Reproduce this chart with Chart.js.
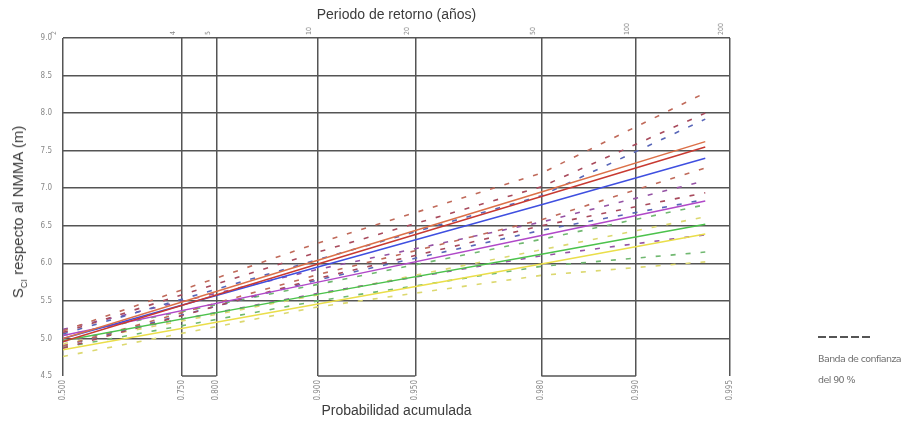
<!DOCTYPE html>
<html>
<head>
<meta charset="utf-8">
<script src="https://cdn.jsdelivr.net/npm/chart.js@4"></script>
<style>
    body { margin: 0; background: #fff; }
    #wrap { position: relative; width: 902px; height: 423px; }
    #ytitle { position: absolute; left: 19px; top: 212px; transform: translate(-50%, -50%) rotate(-90deg); white-space: nowrap; font: 15px 'Liberation Sans', Arial, sans-serif; color: #3c3c3c; }
    #ytitle sub { font-size: 9px; }
    #legend { position: absolute; left: 818px; top: 327px; white-space: nowrap; font-family: 'DejaVu Sans', sans-serif; font-size: 9.5px; letter-spacing: -0.6px; color: #707070; line-height: 21px; }
</style>
</head>
<body>
<div id="wrap">
    <canvas id="chart"></canvas>
    <div id="ytitle">S<sub>CI</sub> respecto al NMMA (m)</div>
    <div id="legend">
        <svg width="54" height="8"><line x1="0" y1="4" x2="52" y2="4" stroke="#555" stroke-width="2" stroke-dasharray="8,3" /></svg><br>
        Banda de confianza<br>del 90 %
    </div>
</div>
<script>
// Axis ticks (cumulative probability, bottom) and return period (top)
const probTicks = [0.5, 0.75, 0.8, 0.9, 0.95, 0.98, 0.99, 0.995];
const probLabels = ['0.500', '0.750', '0.800', '0.900', '0.950', '0.980', '0.990', '0.995'];
const returnPeriods = ['2', '4', '5', '10', '20', '50', '100', '200'];

// bottom frame is only drawn between these pairs
const frameSegments = [[0.75, 0.8], [0.9, 0.95], [0.98, 0.99]];

// probabilities where the curves were read
const lineProbs = [0.5, 0.9, 0.98, 0.994];

// fitted values (m) and 90 % band
const orangeFit = [5.00, 6.04, 6.95, 7.62];
const orangeUp = [5.10, 6.27, 7.20, 8.27];
const orangeLow = [4.90, 5.85, 6.58, 7.27];

const redFit = [4.96, 5.99, 6.89, 7.55];
const redUp = [5.08, 6.15, 7.02, 8.00];
const redLow = [4.87, 5.80, 6.50, 6.94];

const blueFit = [5.00, 5.95, 6.78, 7.40];
const blueUp = [5.06, 6.05, 6.90, 7.92];
const blueLow = [4.90, 5.78, 6.44, 6.85];

const magentaFit = [5.04, 5.75, 6.37, 6.83];
const magentaUp = [5.12, 5.92, 6.55, 7.10];
const magentaLow = [4.96, 5.60, 6.10, 6.38];

const greenFit = [4.97, 5.59, 6.12, 6.52];
const greenUp = [5.04, 5.72, 6.32, 6.78];
const greenLow = [4.88, 5.50, 5.96, 6.15];

const yellowFit = [4.85, 5.46, 5.99, 6.39];
const yellowUp = [4.93, 5.58, 6.18, 6.62];
const yellowLow = [4.76, 5.42, 5.84, 6.02];

// Gumbel reduced variate, makes the probability axis linear
function gumbel(p) {
    return -Math.log(-Math.log(p));
}

function pts(values) {
    return values.map((v, i) => ({ x: gumbel(lineProbs[i]), y: v }));
}

function solid(values, color) {
    return { data: pts(values), borderColor: color, borderWidth: 1.5, pointRadius: 0, order: 1 };
}

function band(values, color) {
    return { data: pts(values), borderColor: color, borderWidth: 1.6, borderDash: [5, 10], pointRadius: 0, order: 2 };
}

const datasets = [
    band(orangeUp, '#c06a5a'), band(orangeLow, '#c06a5a'),
    band(redUp, '#a84a5c'), band(redLow, '#a84a5c'),
    band(blueUp, '#5866b8'), band(blueLow, '#5866b8'),
    band(magentaUp, '#9452a4'), band(magentaLow, '#9452a4'),
    band(greenUp, '#70b870'), band(greenLow, '#70b870'),
    band(yellowUp, '#dcd870'), band(yellowLow, '#dcd870'),
    solid(orangeFit, '#dc7048'), solid(redFit, '#c83a32'),
    solid(blueFit, '#3f4fe0'), solid(magentaFit, '#b048c8'),
    solid(greenFit, '#4cc24c'), solid(yellowFit, '#eade4a')
];

const smallFont = { family: "'Liberation Sans Narrow', 'DejaVu Sans Condensed', sans-serif", size: 8 };
const titleFont = { family: "'Liberation Sans', Arial, sans-serif", size: 14 };
const gridColor = '#555';

const xMin = gumbel(probTicks[0]);
const xMax = gumbel(probTicks[probTicks.length - 1]);

const bottomFrame = {
    id: 'bottomFrame',
    afterDatasetsDraw(chart) {
        const ctx = chart.ctx;
        const x = chart.scales.x;
        const y = chart.chartArea.bottom;
        ctx.save();
        ctx.strokeStyle = gridColor;
        ctx.lineWidth = 1.5;
        frameSegments.forEach(seg => {
            ctx.beginPath();
            ctx.moveTo(x.getPixelForValue(gumbel(seg[0])), y);
            ctx.lineTo(x.getPixelForValue(gumbel(seg[1])), y);
            ctx.stroke();
        });
        ctx.restore();
    }
};

new Chart(document.getElementById('chart'), {
    type: 'line',
    data: { datasets },
    plugins: [bottomFrame],
    options: {
        responsive: true,
        maintainAspectRatio: false,
        animation: false,
        layout: { padding: { left: 0, right: 172, top: 0, bottom: 0 } },
        plugins: { legend: { display: false }, tooltip: { enabled: false } },
        scales: {
            x: {
                type: 'linear',
                position: 'bottom',
                min: xMin,
                max: xMax,
                afterBuildTicks: s => { s.ticks = probTicks.map(p => ({ value: gumbel(p) })); },
                afterFit: s => { s.height = 47; },
                ticks: {
                    minRotation: 90, maxRotation: 90, padding: 4,
                    color: '#888', font: smallFont,
                    callback: (v, i) => probLabels[i]
                },
                grid: { color: gridColor, lineWidth: 1.5, drawTicks: false },
                border: { display: false },
                title: { display: true, text: 'Probabilidad acumulada', color: '#3c3c3c', font: titleFont, padding: { top: 0, bottom: 3 } }
            },
            x2: {
                type: 'linear',
                position: 'top',
                min: xMin,
                max: xMax,
                afterBuildTicks: s => { s.ticks = probTicks.map(p => ({ value: gumbel(p) })); },
                afterFit: s => { s.height = 38; },
                ticks: {
                    minRotation: 90, maxRotation: 90, padding: 3,
                    color: '#888', font: { ...smallFont, size: 7 },
                    callback: (v, i) => returnPeriods[i]
                },
                grid: { display: false, drawTicks: false },
                border: { display: false },
                title: { display: true, text: 'Periodo de retorno (años)', color: '#3c3c3c', font: titleFont, padding: { top: 7, bottom: 0 } }
            },
            y: {
                min: 4.5,
                max: 9.0,
                afterFit: s => { s.width = 63; },
                ticks: { stepSize: 0.5, padding: 11, color: '#888', font: smallFont, callback: v => v.toFixed(1) },
                grid: {
                    color: c => (c.tick && c.tick.value === 4.5 ? 'rgba(0,0,0,0)' : gridColor),
                    lineWidth: 1.5,
                    drawTicks: false
                },
                border: { display: false }
            }
        }
    }
});
</script>
</body>
</html>
